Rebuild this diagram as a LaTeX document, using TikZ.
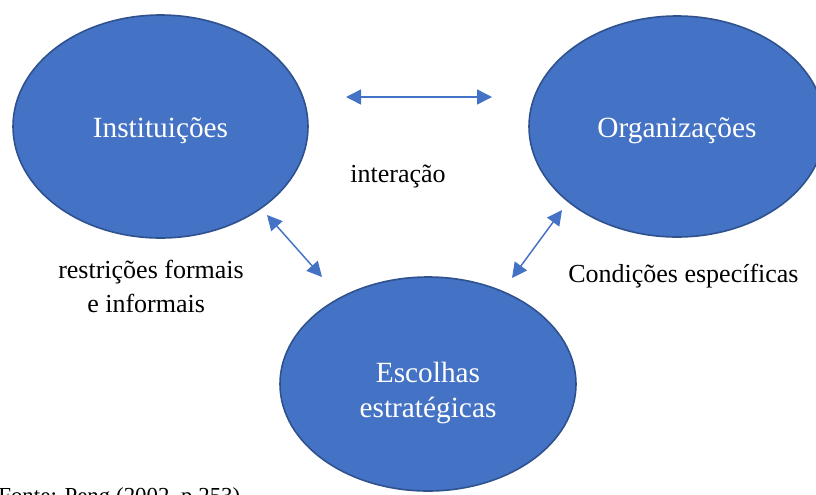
\documentclass[tikz,border=0pt]{standalone}
\usepackage{fontspec}
\setmainfont{Liberation Serif}
\usetikzlibrary{shapes.geometric,arrows.meta}
\definecolor{blobfill}{HTML}{4472C4}
\definecolor{blobedge}{HTML}{2F528F}
\begin{document}
\begin{tikzpicture}[x=0.75pt,y=-0.75pt,
  blob/.style={ellipse, fill=blobfill, draw=blobedge, line width=1.2pt, inner sep=0pt},
  blobtext/.style={anchor=base, inner sep=0pt, text=white, font=\fontsize{22}{26}\selectfont},
  link/.style={draw=blobfill, line width=1.1pt,
    {Triangle[length=11.25pt,width=11.25pt]}-{Triangle[length=11.25pt,width=11.25pt]}},
  lbl/.style={font=\fontsize{19.5}{23}\selectfont, inner sep=0pt}]
\useasboundingbox (0,0) rectangle (816,494);

% the three ellipses
\node[blob, minimum width=221.25pt, minimum height=167.25pt] (inst) at (160.5,126.5) {};
\node[blob, minimum width=222pt, minimum height=165.75pt] (org) at (677,126.5) {};
\node[blob, minimum width=222pt, minimum height=160.5pt] (esc) at (428,384) {};

% ellipse captions
\node[blobtext] (instT) at (160.5,137) {Instituições};
\node[blobtext] (orgT) at (677,137) {Organizações};
\node[blobtext] (escT1) at (428,382) {Escolhas};
\node[blobtext] (escT2) at (428,417) {estratégicas};

% connector end points
\coordinate (ia) at (346,97);
\coordinate (oa) at (492,97);
\coordinate (ib) at (267,215);
\coordinate (eb) at (322,277);
\coordinate (oc) at (562,210);
\coordinate (ec) at (512,278);

\draw[link] (ia) -- (oa);
\draw[link] (ib) -- (eb);
\draw[link] (oc) -- (ec);

% labels
\node[lbl, anchor=base] (inter) at (398,182) {interação};
\node[lbl, anchor=base west] (restr1) at (58,278) {restrições formais};
\node[lbl, anchor=base west] (restr2) at (87,312) {e informais};
\node[lbl, anchor=base west] (cond) at (568,282) {Condições específicas};
\node[lbl, anchor=base west, font=\fontsize{17.2}{21}\selectfont] (fonte) at (-2,503) {Fonte: Peng (2002, p.253)};
\end{tikzpicture}
\end{document}
